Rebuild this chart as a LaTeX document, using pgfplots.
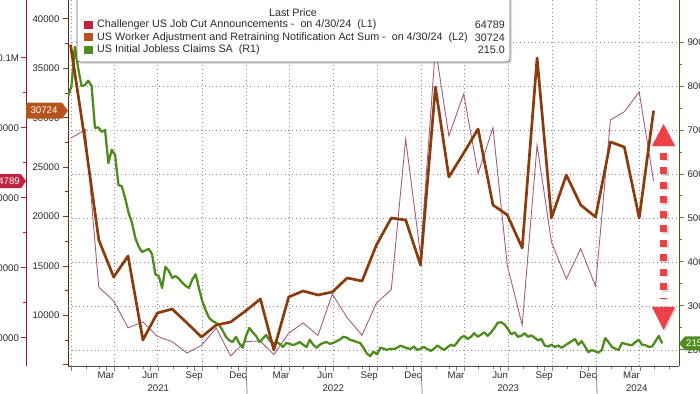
\documentclass[border=0pt]{standalone}
\usepackage{pgfplots}
\pgfplotsset{compat=1.18}
\usepackage{fontspec}
\setmainfont{Liberation Sans}
\definecolor{chal}{HTML}{A35C7E}
\definecolor{chalsq}{HTML}{C3213F}
\definecolor{warn}{HTML}{A4470F}
\definecolor{warnsq}{HTML}{B5541C}
\definecolor{claims}{HTML}{4E8C1E}
\definecolor{gridc}{HTML}{8C8C8C}
\definecolor{txt}{HTML}{2A2A2A}
\definecolor{arrowred}{HTML}{EC4146}
\newcommand{\tkf}{\fontsize{9.7}{11}\selectfont}
\newcommand{\lgf}{\fontsize{10.8}{12}\selectfont}
\pgfplotsset{
  base/.style={
    scale only axis, anchor=south west, height=366bp,
    tick label style={font=\tkf, text=txt},
    /pgf/number format/assume math mode=true,
    tick align=outside,
    major tick length=5bp, minor tick length=3bp,
    major grid style={gridc, line width=0.6bp, dash pattern=on 0.8bp off 3bp},
  }
}
\pgfplotstableread{
d v
-1 77030
30 79552
58 34531
89 30603
119 22913
150 24586
180 20476
211 18942
242 15723
272 17895
303 22822
333 14875
364 19052
395 19064
423 15245
454 21387
484 24286
515 20712
545 32517
576 25810
607 20781
637 29989
668 33843
698 76835
729 43651
760 102943
788 77770
819 89703
849 66995
880 80089
910 40709
941 23697
972 75151
1002 47457
1033 36836
1063 45510
1094 34817
1125 82307
1154 84638
1185 90309
1215 64789
}\chaltab
\pgfplotstableread{
d v
-1 37400
30 27451
58 17635
89 13890
119 16016
150 7515
180 10247
211 10652
242 9235
272 7818
303 9033
333 9336
364 10450
395 11664
423 6503
454 11866
484 12474
515 12069
545 12373
576 13790
607 13486
637 17130
668 19861
698 19659
729 15105
760 33118
788 24010
819 26439
849 28868
880 21177
910 20165
941 16825
972 36053
1002 19861
1033 24213
1063 21177
1094 19962
1125 27552
1154 27046
1185 19861
1215 30724
}\warntab
\pgfplotstableread{
d v
-6 776
1 800
8 889
15 840
22 800
29 802
36 812
43 800
50 705
57 706
64 696
71 700
78 625
85 655
92 643
99 575
106 572
113 545
120 512
127 490
134 455
141 435
148 423
155 426
162 430
169 418
176 372
183 368
190 341
197 389
204 380
211 364
218 368
225 362
232 353
239 346
246 341
253 360
260 372
267 340
274 310
281 290
288 273
295 266
302 262
309 257
316 245
323 230
330 222
337 218
344 230
351 215
358 205
365 232
372 250
379 240
386 232
393 218
400 226
407 234
414 222
421 215
428 218
435 214
442 207
449 216
456 214
463 211
470 214
477 218
484 212
491 207
498 223
505 212
512 205
519 212
526 216
533 218
540 214
547 216
554 220
561 224
568 230
575 228
582 223
589 221
596 218
603 216
610 205
617 192
624 186
631 196
638 190
645 205
652 203
659 200
666 203
673 202
680 205
687 210
694 207
701 204
708 202
715 208
722 200
729 203
736 207
743 202
750 198
757 203
764 210
771 205
778 200
785 206
792 212
799 209
806 218
813 228
820 232
827 225
834 230
841 238
848 230
855 235
862 240
869 232
876 240
883 250
890 262
897 263
904 258
911 248
918 236
925 240
932 230
939 232
946 238
953 230
960 233
967 228
974 222
981 225
988 210
995 208
1002 212
1009 207
1016 210
1023 205
1030 210
1037 215
1044 220
1051 225
1058 212
1065 220
1072 208
1079 195
1086 200
1093 197
1100 194
1107 200
1114 227
1121 218
1128 207
1135 203
1142 200
1149 216
1156 214
1163 212
1170 211
1177 218
1184 223
1191 212
1198 211
1205 207
1212 208
1219 220
1226 232
1233 215
}\claimtab
\begin{document}
\begin{tikzpicture}
\path[use as bounding box] (0,0) rectangle (700bp,394bp);
\begin{scope}
\clip (0,0) rectangle (700bp,394bp);
% ---- axis A: x axis, L2 axis, vertical grid
\begin{axis}[base, at={(68bp,28bp)}, width=611bp, clip=false,
  xmin=-6.26, xmax=1268, ymin=4884, ymax=41923,
  axis x line*=bottom, axis y line*=left,
  x axis line style={draw=black!70, line width=0.8bp},
  y axis line style={draw=warn!55!black, line width=0.8bp},
  xtick={73,165,257,348,438,530,622,713,803,895,987,1078,1169},
  xticklabels={Mar,Jun,Sep,Dec,Mar,Jun,Sep,Dec,Mar,Jun,Sep,Dec,Mar},
  x tick label style={yshift=3bp},
  minor xtick={0,31,59,90,120,151,181,212,243,273,304,334,365,396,424,455,485,516,546,577,608,638,669,699,730,761,789,820,850,881,911,942,973,1003,1034,1064,1095,1126,1155,1186,1216,1247},
  extra x ticks={0,90,181,273,365,455,546,638,730,820,911,1003,1095,1186},
  extra x tick labels={},
  extra x tick style={grid=major},
  ytick={5000,10000,15000,20000,25000,30000,35000,40000},
  yticklabels={{},10000,15000,20000,25000,30000,35000,40000},
  minor y tick num=1,
  ytick style={draw=warn!80!black, line width=1bp},
]
\addplot[draw=none] coordinates {(0,10000)};
\node[font=\tkf, text=txt] at (axis cs:182,4884) [yshift=-22bp] {2021};
\node[font=\tkf, text=txt] at (axis cs:547,4884) [yshift=-22bp] {2022};
\node[font=\tkf, text=txt] at (axis cs:912,4884) [yshift=-22bp] {2023};
\node[font=\tkf, text=txt] at (axis cs:1180,4884) [yshift=-22bp] {2024};
\draw[black!55, line width=0.7bp] (axis cs:365,4884) -- ++(0,-30bp);
\draw[black!55, line width=0.7bp] (axis cs:730,4884) -- ++(0,-30bp);
\draw[black!55, line width=0.7bp] (axis cs:1095,4884) -- ++(0,-30bp);
\end{axis}
% ---- axis B: R1 axis, horizontal grid
\begin{axis}[base, at={(68bp,28bp)}, width=611bp,
  xmin=-6.26, xmax=1268, ymin=163.6, ymax=995.5,
  axis x line=none, axis y line*=right,
  y axis line style={draw=claims!70!black, line width=0.8bp},
  ytick={200,300,400,500,600,700,800,900},
  minor y tick num=1,
  ymajorgrids,
  ytick style={draw=claims, line width=1bp},
]
\addplot[draw=none] coordinates {(0,500)};
\end{axis}
% ---- axis C: L1 axis + Challenger
\begin{axis}[base, at={(26bp,28bp)}, width=653bp,
  xmin=-93.8, xmax=1268, ymin=12000, ymax=116571,
  axis x line=none, axis y line*=left,
  y axis line style={draw=chalsq!75!black, line width=0.8bp},
  ytick={20000,40000,60000,80000,100000},
  yticklabels={20000,40000,60000,80000,0.1M},
  y tick label style={xshift=1.5bp},
  minor y tick num=1,
  ytick style={draw=chalsq, line width=1bp},
]
\addplot[chal, line width=0.9bp] table[x=d,y=v] {\chaltab};
\coordinate (m1) at (axis cs:-93.8,64789);
\end{axis}
% ---- axis D: claims
\begin{axis}[base, at={(68bp,28bp)}, width=611bp, hide axis,
  xmin=-6.26, xmax=1268, ymin=163.6, ymax=995.5]
\addplot[claims, line width=2.3bp, line join=round] table[x=d,y=v] {\claimtab};
\coordinate (m3) at (axis cs:1268,215);
\end{axis}
% ---- axis E: WARN
\begin{axis}[base, at={(68bp,28bp)}, width=611bp, hide axis,
  xmin=-6.26, xmax=1268, ymin=4884, ymax=41923]
\addplot[warn!85!black, line width=2.7bp, line join=round] table[x=d,y=v] {\warntab};
\coordinate (m2) at (axis cs:-6.26,30724);
\end{axis}
% ---- last value markers
\fill[warnsq] (m2) -- ++(-6bp,8bp) -- ++(-36bp,0) -- ++(0,-16bp) -- ++(36bp,0) -- cycle;
\path (m2) ++(-24bp,0) node[text=white, font=\tkf] {30724};
\fill[chalsq] (m1) -- ++(-5bp,7bp) -- ++(-40bp,0) -- ++(0,-14bp) -- ++(40bp,0) -- cycle;
\path (m1) ++(-5bp,0) node[anchor=east, inner sep=1bp, text=white, font=\tkf] {64789};
\fill[claims] (m3) -- ++(6bp,7bp) -- ++(40bp,0) -- ++(0,-14bp) -- ++(-40bp,0) -- cycle;
\path (m3) ++(6bp,0) node[anchor=west, inner sep=1bp, text=white, font=\tkf] {215};
% ---- red arrow annotation
\fill[black, opacity=0.15] (653.5bp,246.5bp) -- (665bp,268.5bp) -- (676.5bp,246.5bp) -- cycle;
\draw[black, opacity=0.15, line width=7bp, dash pattern=on 7bp off 7.5bp] (665bp,239.5bp) -- (665bp,93.5bp);
\fill[black, opacity=0.15] (653.5bp,85.5bp) -- (665bp,62.5bp) -- (676.5bp,85.5bp) -- cycle;
\fill[arrowred] (652bp,248bp) -- (663.5bp,270bp) -- (675bp,248bp) -- cycle;
\draw[arrowred, line width=7bp, dash pattern=on 7bp off 7.5bp] (663.5bp,241bp) -- (663.5bp,95bp);
\fill[arrowred] (652bp,87bp) -- (663.5bp,64bp) -- (675bp,87bp) -- cycle;
% ---- legend
\fill[black, opacity=0.12, rounded corners=3bp] (79bp,330bp) rectangle (512bp,398bp);
\draw[rounded corners=3bp, fill=white, draw=black!60, line width=0.8bp] (77bp,332bp) rectangle (510bp,399bp);
\node[font=\lgf, text=txt] at (293bp,381bp) {Last Price};
\fill[chalsq] (84bp,365bp) rectangle (93bp,373bp);
\fill[warnsq] (84bp,352.5bp) rectangle (93bp,360.5bp);
\fill[claims] (84bp,340bp) rectangle (93bp,348bp);
\node[font=\lgf, text=txt, anchor=west, inner sep=0pt] at (97bp,369bp) {Challenger US Job Cut Announcements -\ \ on 4/30/24\ \ (L1)};
\node[font=\lgf, text=txt, anchor=west, inner sep=0pt] at (97bp,356.5bp) {US Worker Adjustment and Retraining Notification Act Sum -\ \ on 4/30/24\ \ (L2)};
\node[font=\lgf, text=txt, anchor=west, inner sep=0pt] at (97bp,344bp) {US Initial Jobless Claims SA\ \ (R1)};
\node[font=\lgf, text=txt, anchor=east, inner sep=0pt] at (505bp,369bp) {64789};
\node[font=\lgf, text=txt, anchor=east, inner sep=0pt] at (505bp,356.5bp) {30724};
\node[font=\lgf, text=txt, anchor=east, inner sep=0pt] at (505bp,344bp) {215.0};
\end{scope}
\end{tikzpicture}
\end{document}
